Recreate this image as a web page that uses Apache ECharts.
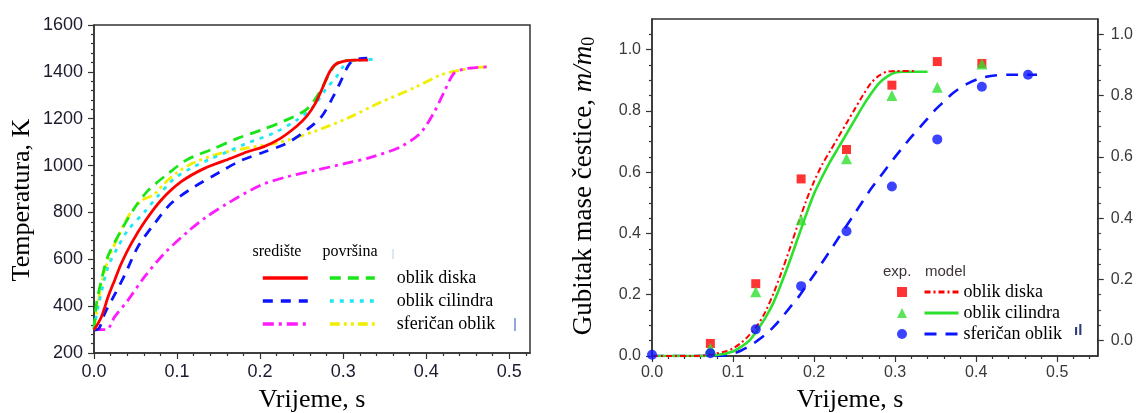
<!DOCTYPE html>
<html>
<head>
<meta charset="utf-8">
<script src="https://cdn.jsdelivr.net/npm/echarts@6/dist/echarts.min.js"></script>
<style>
  html, body { margin: 0; padding: 0; background: #fff; }
  #chart { width: 1136px; height: 413px; }
</style>
</head>
<body>
<div id="chart"></div>
<script>
// ---- Temperature histories: [time (s), temperature (K)] ----
const diskCenter = [[0,298],[0.009,355],[0.017,440],[0.025,512],[0.033,583],[0.045,668],[0.061,760],[0.081,853],[0.105,931],[0.133,988],[0.165,1031],[0.184,1058],[0.204,1080],[0.224,1115],[0.244,1168],[0.256,1210],[0.266,1262],[0.275,1330],[0.283,1395],[0.29,1430],[0.3,1445],[0.315,1450],[0.33,1450]];
const diskSurface = [[0,300],[0.003,410],[0.009,512],[0.017,615],[0.033,725],[0.049,820],[0.065,893],[0.089,965],[0.112,1025],[0.144,1072],[0.172,1115],[0.2,1150],[0.232,1195],[0.256,1240],[0.272,1315],[0.283,1390],[0.292,1436],[0.3,1447],[0.316,1450]];
const cylCenter = [[0,298],[0.006,305],[0.013,369],[0.025,450],[0.037,533],[0.053,654],[0.073,753],[0.093,839],[0.121,910],[0.153,975],[0.176,1020],[0.204,1057],[0.232,1095],[0.256,1152],[0.274,1209],[0.288,1294],[0.296,1351],[0.308,1436],[0.318,1455],[0.329,1458]];
const cylSurface = [[0,300],[0.005,398],[0.017,568],[0.029,654],[0.041,725],[0.061,803],[0.077,870],[0.097,945],[0.12,995],[0.14,1028],[0.156,1052],[0.184,1095],[0.216,1138],[0.244,1194],[0.264,1251],[0.28,1330],[0.292,1379],[0.3,1422],[0.31,1445],[0.325,1452],[0.339,1453]];
const sphereCenter = [[0,300],[0.015,300],[0.025,355],[0.041,426],[0.061,526],[0.085,626],[0.113,718],[0.133,775],[0.161,839],[0.2,915],[0.23,950],[0.264,978],[0.304,1010],[0.336,1038],[0.369,1080],[0.393,1139],[0.409,1224],[0.421,1310],[0.433,1392],[0.445,1412],[0.46,1418],[0.477,1422]];
const sphereSurface = [[0,305],[0.003,370],[0.009,497],[0.017,597],[0.029,696],[0.041,782],[0.057,850],[0.072,876],[0.085,925],[0.1,970],[0.12,1012],[0.15,1050],[0.184,1075],[0.224,1100],[0.264,1144],[0.304,1200],[0.345,1270],[0.385,1331],[0.417,1386],[0.441,1408],[0.46,1418],[0.477,1422]];

// ---- Mass loss m/m0: measurements ----
const expTimes = [0.072, 0.128, 0.184, 0.24, 0.296, 0.352, 0.407];
const expDisk = [0.041, 0.236, 0.578, 0.674, 0.884, 0.961, 0.955];
const expCyl = [0.025, 0.21, 0.445, 0.644, 0.85, 0.877, 0.953];
const expSphereTimes = [0.0, 0.072, 0.128, 0.184, 0.24, 0.296, 0.352, 0.407, 0.464];
const expSphere = [0.004, 0.009, 0.087, 0.228, 0.407, 0.553, 0.707, 0.879, 0.918];

// ---- Mass loss m/m0: model curves [time (s), m/m0] ----
const modelDisk = [[0,0],[0.05,0],[0.07,0.004],[0.09,0.015],[0.1,0.025],[0.11,0.043],[0.12,0.068],[0.13,0.1],[0.14,0.145],[0.15,0.205],[0.16,0.275],[0.17,0.35],[0.18,0.43],[0.19,0.505],[0.2,0.57],[0.21,0.625],[0.22,0.67],[0.23,0.715],[0.24,0.76],[0.25,0.805],[0.26,0.85],[0.27,0.89],[0.28,0.915],[0.29,0.928],[0.3,0.93],[0.325,0.93]];
const modelCyl = [[0,0],[0.06,0],[0.08,0.003],[0.1,0.015],[0.11,0.03],[0.12,0.05],[0.13,0.085],[0.14,0.125],[0.15,0.175],[0.16,0.24],[0.17,0.31],[0.18,0.385],[0.19,0.46],[0.2,0.53],[0.21,0.585],[0.22,0.635],[0.23,0.68],[0.24,0.725],[0.25,0.77],[0.26,0.815],[0.27,0.855],[0.28,0.89],[0.29,0.912],[0.3,0.925],[0.31,0.928],[0.34,0.928]];
const modelSphere = [[0,0],[0.08,0],[0.09,0.002],[0.1,0.008],[0.11,0.018],[0.12,0.032],[0.13,0.05],[0.14,0.07],[0.15,0.095],[0.16,0.125],[0.17,0.158],[0.18,0.19],[0.19,0.228],[0.2,0.265],[0.21,0.305],[0.22,0.345],[0.23,0.385],[0.24,0.425],[0.25,0.465],[0.26,0.505],[0.27,0.545],[0.28,0.58],[0.29,0.615],[0.3,0.65],[0.31,0.683],[0.32,0.715],[0.33,0.745],[0.34,0.775],[0.35,0.805],[0.36,0.83],[0.37,0.855],[0.38,0.875],[0.39,0.89],[0.4,0.902],[0.41,0.91],[0.42,0.915],[0.44,0.918],[0.475,0.918]];

// ---- Axis tick values ----
const timeTicks = [0, 0.1, 0.2, 0.3, 0.4, 0.5];
const massTicks = [0, 0.2, 0.4, 0.6, 0.8, 1.0];
const tempTicks = [200, 400, 600, 800, 1000, 1200, 1400, 1600];

// Legend row labels
const shapeNames = ['oblik diska', 'oblik cilindra', 'sferičan oblik'];

function minorBetween(lo, hi, step, majors) {
  const out = [];
  for (let v = lo; v <= hi + 1e-9; v += step) {
    const r = Math.round(v * 1000) / 1000;
    if (!majors.some(m => Math.abs(m - r) < 1e-6)) out.push(r);
  }
  return out;
}

const AXIS_COLOR = '#333';
const SANS = '"Liberation Sans", Arial, sans-serif';
const SERIF = '"Liberation Serif", "Times New Roman", serif';

function majorAxis(base, ticks, labelStyle, fmt) {
  return Object.assign({
    type: 'value',
    axisLine: { show: true, onZero: false, lineStyle: { color: AXIS_COLOR, width: 1.5 } },
    axisTick: { show: true, inside: false, length: 6, customValues: ticks, lineStyle: { color: AXIS_COLOR, width: 1.2 } },
    axisLabel: Object.assign({ customValues: ticks, formatter: fmt, fontFamily: SANS }, labelStyle),
    splitLine: { show: false }
  }, base);
}
function minorAxis(base, ticks) {
  return Object.assign({
    type: 'value',
    axisLine: { show: false, onZero: false },
    axisTick: { show: true, inside: false, length: 3, customValues: ticks, lineStyle: { color: AXIS_COLOR, width: 1.2 } },
    axisLabel: { show: false },
    splitLine: { show: false }
  }, base);
}

const leftLabel = { fontSize: 18, color: '#1b1b2e' };
const rightLabel = { fontSize: 16, color: '#3a3a3a' };
const fmt1 = v => Number(v).toFixed(1);

function tempLine(name, data, color, type, width) {
  return {
    name: name, type: 'line', xAxisIndex: 0, yAxisIndex: 0, data: data,
    smooth: 0.3, symbol: 'none', color: color,
    lineStyle: { color: color, width: width || 2.8, type: type },
    itemStyle: { color: color }, z: 3
  };
}
function modelLine(name, data, color, type, width) {
  return {
    name: name, type: 'line', xAxisIndex: 2, yAxisIndex: 1, data: data,
    smooth: 0.3, symbol: 'none', color: color,
    lineStyle: { color: color, width: width, type: type },
    itemStyle: { color: color }, z: 3
  };
}
function expPoints(name, times, values, color, symbol, size) {
  return {
    name: name, type: 'scatter', xAxisIndex: 2, yAxisIndex: 1,
    data: times.map((t, i) => [t, values[i]]),
    symbol: symbol, symbolSize: size, color: color,
    itemStyle: { color: color }, z: 5
  };
}

const C = {
  red: '#ff0000', green: '#19e619', blue: '#0a14ff',
  cyan: '#1ee8f5', magenta: '#ff1aff', yellow: '#f2ee00',
  greenR: '#2ee02e'
};

const series = [
  tempLine('površina – ' + shapeNames[2], sphereSurface, C.yellow, [10, 4, 3, 4, 3, 4]),
  tempLine('središte – ' + shapeNames[2], sphereCenter, C.magenta, [11, 5, 3, 5]),
  tempLine('površina – ' + shapeNames[1], cylSurface, C.cyan, [4, 6]),
  tempLine('središte – ' + shapeNames[1], cylCenter, C.blue, [10, 8]),
  tempLine('površina – ' + shapeNames[0], diskSurface, C.green, [11, 7]),
  tempLine('središte – ' + shapeNames[0], diskCenter, C.red, 'solid'),

  modelLine('model – ' + shapeNames[2], modelSphere, C.blue, [12, 9], 2.6),
  modelLine('model – ' + shapeNames[1], modelCyl, C.greenR, 'solid', 2.6),
  modelLine('model – ' + shapeNames[0], modelDisk, C.red, [6, 3, 2, 3], 2),
  expPoints('exp. – ' + shapeNames[0], expTimes, expDisk, C.red, 'rect', 9),
  expPoints('exp. – ' + shapeNames[1], expTimes, expCyl, C.greenR, 'triangle', 11),
  expPoints('exp. – ' + shapeNames[2], expSphereTimes, expSphere, C.blue, 'circle', 10)
];

const afterDash = n => n.split(' – ')[1];
const hiddenMarker = { color: 'rgba(0,0,0,0)', borderWidth: 0, opacity: 0 };
const legendBase = {
  orient: 'vertical', padding: 0, selectedMode: false,
  itemGap: 3, itemHeight: 14,
  textStyle: { fontFamily: SERIF, fontSize: 18, lineHeight: 20, color: '#000' }
};
const rightText = { fontFamily: SERIF, fontSize: 18, lineHeight: 17, color: '#000' };

const option = {
  animation: false,
  backgroundColor: '#fff',
  grid: [
    { left: 94, top: 25, width: 436, height: 328, show: true, borderColor: AXIS_COLOR, borderWidth: 1.5, backgroundColor: 'transparent' },
    { left: 652, top: 19, width: 448, height: 337, show: true, borderColor: AXIS_COLOR, borderWidth: 1.5, backgroundColor: 'transparent' }
  ],
  xAxis: [
    majorAxis({ gridIndex: 0, min: 0, max: 0.525, position: 'bottom' }, timeTicks,
      Object.assign({ margin: 10 }, leftLabel), fmt1),
    minorAxis({ gridIndex: 0, min: 0, max: 0.525, position: 'bottom' }, minorBetween(0.02, 0.52, 0.02, timeTicks)),
    majorAxis({ gridIndex: 1, min: 0, max: 0.55, position: 'bottom' }, timeTicks,
      Object.assign({ margin: 9 }, rightLabel), fmt1),
    minorAxis({ gridIndex: 1, min: 0, max: 0.55, position: 'bottom' }, minorBetween(0.02, 0.54, 0.02, timeTicks))
  ],
  yAxis: [
    majorAxis({ gridIndex: 0, min: 200, max: 1600, position: 'left' }, tempTicks,
      Object.assign({ margin: 11 }, leftLabel), v => String(v)),
    majorAxis({ gridIndex: 1, min: 0, max: 1.1, position: 'left' }, massTicks,
      Object.assign({ margin: 11 }, rightLabel), fmt1),
    minorAxis({ gridIndex: 1, min: 0, max: 1.1, position: 'left' }, minorBetween(0.05, 1.05, 0.05, massTicks)),
    majorAxis({ gridIndex: 1, min: -0.05, max: 1.05, position: 'right' }, massTicks,
      Object.assign({ margin: 13 }, rightLabel), fmt1),
    minorAxis({ gridIndex: 1, min: -0.05, max: 1.05, position: 'right' }, minorBetween(0.05, 0.95, 0.05, massTicks)),
    minorAxis({ gridIndex: 0, min: 200, max: 1600, position: 'left' }, minorBetween(240, 1560, 40, tempTicks))
  ],
  legend: [
    // centre-temperature column (line samples only)
    Object.assign({}, legendBase, {
      left: 261, top: 268, itemWidth: 45, itemStyle: hiddenMarker, lineStyle: { width: 3.6 },
      data: shapeNames.map(s => 'središte – ' + s),
      formatter: afterDash,
      textStyle: Object.assign({}, legendBase.textStyle, { color: 'rgba(0,0,0,0)' })
    }),
    // surface-temperature column with shape names
    Object.assign({}, legendBase, {
      left: 328, top: 268, itemWidth: 45, itemStyle: hiddenMarker, lineStyle: { width: 3.6 },
      data: shapeNames.map(s => 'površina – ' + s),
      formatter: afterDash,
      textStyle: Object.assign({}, legendBase.textStyle, { padding: [0, 0, 0, 17] })
    }),
    // measured points column
    Object.assign({}, legendBase, {
      left: 897, top: 283, itemWidth: 10, itemHeight: 10,
      data: shapeNames.map(s => 'exp. – ' + s),
      formatter: afterDash,
      textStyle: Object.assign({}, rightText, { color: 'rgba(0,0,0,0)' })
    }),
    // model curves column with shape names
    Object.assign({}, legendBase, {
      left: 923, top: 283, itemWidth: 34, itemHeight: 10, itemStyle: hiddenMarker, lineStyle: { width: 3 },
      data: shapeNames.map(s => 'model – ' + s),
      formatter: afterDash,
      textStyle: rightText
    })
  ],
  graphic: [
    { type: 'text', x: 22, y: 200, rotation: Math.PI / 2,
      style: { text: 'Temperatura, K', font: '26px ' + SERIF, fill: '#000', align: 'center', verticalAlign: 'middle', textAlign: 'center', textVerticalAlign: 'middle' } },
    { type: 'text', x: 312, y: 400,
      style: { text: 'Vrijeme, s', font: '26px ' + SERIF, fill: '#000', align: 'center', verticalAlign: 'middle', textAlign: 'center', textVerticalAlign: 'middle' } },
    { type: 'text', x: 850, y: 400,
      style: { text: 'Vrijeme, s', font: '26px ' + SERIF, fill: '#000', align: 'center', verticalAlign: 'middle', textAlign: 'center', textVerticalAlign: 'middle' } },
    { type: 'text', x: 584, y: 186, rotation: Math.PI / 2,
      style: {
        text: '{n|Gubitak mase čestice, }{i|m/m}{s|0}',
        align: 'center', verticalAlign: 'middle', textAlign: 'center', textVerticalAlign: 'middle',
        rich: {
          n: { fontFamily: SERIF, fontSize: 27, color: '#000' },
          i: { fontFamily: SERIF, fontSize: 27, fontStyle: 'italic', color: '#000' },
          s: { fontFamily: SERIF, fontSize: 18, color: '#000', padding: [10, 0, 0, 0] }
        }
      } },
    { type: 'text', x: 277, y: 252,
      style: { text: 'središte', font: '16px ' + SERIF, fill: '#000', align: 'center', verticalAlign: 'middle', textAlign: 'center', textVerticalAlign: 'middle' } },
    { type: 'text', x: 350, y: 252,
      style: { text: 'površina', font: '16px ' + SERIF, fill: '#000', align: 'center', verticalAlign: 'middle', textAlign: 'center', textVerticalAlign: 'middle' } },
    { type: 'text', x: 883, y: 272,
      style: { text: 'exp.', font: '15px ' + SANS, fill: '#3d3535', align: 'left', verticalAlign: 'middle', textAlign: 'left', textVerticalAlign: 'middle' } },
    { type: 'text', x: 925, y: 272,
      style: { text: 'model', font: '15px ' + SANS, fill: '#3d3535', align: 'left', verticalAlign: 'middle', textAlign: 'left', textVerticalAlign: 'middle' } },
    { type: 'line', shape: { x1: 515, y1: 318, x2: 515, y2: 331 }, style: { stroke: '#4a6fd0', lineWidth: 1.2 } },
    { type: 'line', shape: { x1: 393, y1: 249, x2: 393, y2: 259 }, style: { stroke: '#b5d2ee', lineWidth: 1 } },
    { type: 'text', x: 1074, y: 331,
      style: { text: 'ıl', font: 'bold 15px ' + SANS, fill: '#2b3a7a', align: 'left', verticalAlign: 'middle', textAlign: 'left', textVerticalAlign: 'middle' } }
  ],
  series: series
};

const chart = echarts.init(document.getElementById('chart'), null, { renderer: 'canvas' });
chart.setOption(option);
</script>
</body>
</html>
